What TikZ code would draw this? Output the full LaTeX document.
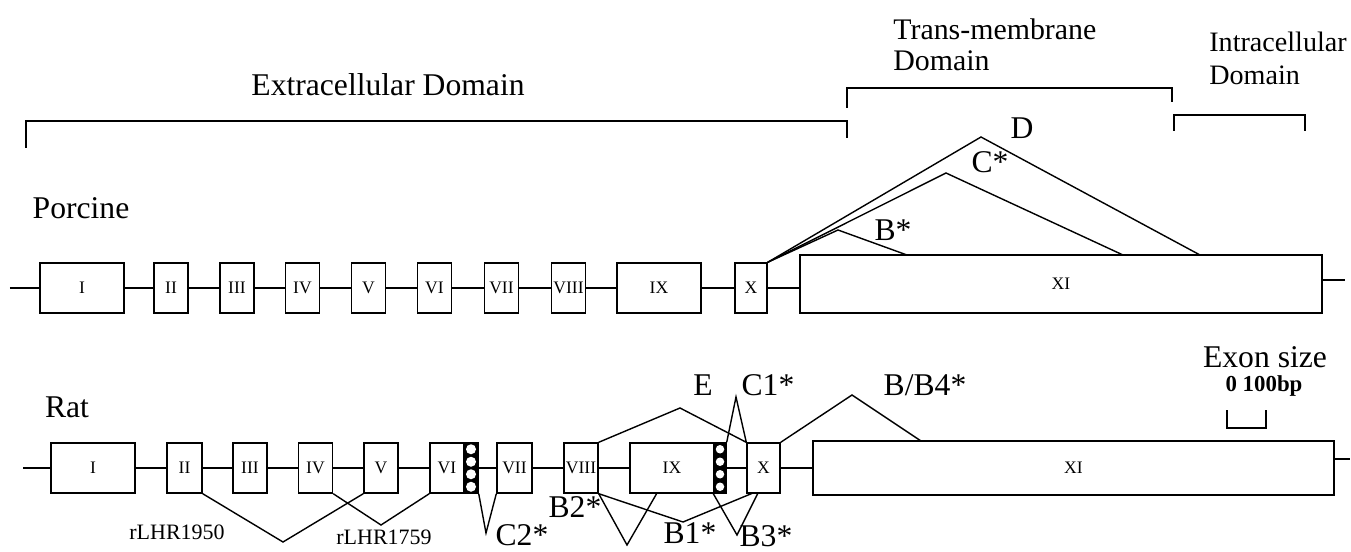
\documentclass[tikz,border=0pt]{standalone}
\usepackage{fontspec}
\setmainfont{Liberation Serif}

\begin{document}
\begin{tikzpicture}[x=1cm,y=1cm]
\tikzset{
  exon/.style={draw,rectangle,line width=0.8pt,minimum height=10mm,inner sep=0pt,font=\fontsize{10}{12}\selectfont},
  checker/.style={draw,rectangle,line width=0.8pt,minimum height=10mm,inner sep=0pt,fill=black},
  intron/.style={line width=0.8pt},
  splice/.style={line width=0.8pt},
  bracket/.style={line width=1.2pt},
  tag/.style={inner sep=0pt,font=\fontsize{18}{20}\selectfont},
  smalltag/.style={inner sep=0pt,font=\fontsize{12.5}{14}\selectfont}
}
\useasboundingbox (0,0) rectangle (27.02,11.02);
\node[tag] (t_extra) at (7.76,9.32) {Extracellular Domain};
\node[tag,align=left,anchor=west,font=\fontsize{17}{17.5}\selectfont] (t_trans) at (17.86,10.12) {Trans-membrane\\Domain};
\node[tag,align=left,anchor=west,font=\fontsize{16}{19}\selectfont] (t_intra) at (24.18,9.85) {Intracellular\\Domain};
\draw[bracket] (0.52,8.06) -- (0.52,8.60) -- (16.94,8.60) -- (16.94,8.26);
\draw[bracket] (16.94,8.86) -- (16.94,9.26) -- (23.44,9.26) -- (23.44,8.98);
\draw[bracket] (23.48,8.40) -- (23.48,8.72) -- (26.10,8.72) -- (26.10,8.40);
\node[tag] (t_porcine) at (1.62,6.86) {Porcine};
\coordinate (p_start) at (0.20,5.26);
\coordinate (p_tail) at (26.90,5.42);
\node[exon,minimum width=16.8mm] (p_I) at (1.64,5.26) {I};
\node[exon,minimum width=6.8mm] (p_II) at (3.42,5.26) {II};
\node[exon,minimum width=6.8mm] (p_III) at (4.74,5.26) {III};
\node[exon,minimum width=6.8mm] (p_IV) at (6.05,5.26) {IV};
\node[exon,minimum width=6.8mm] (p_V) at (7.37,5.26) {V};
\node[exon,minimum width=6.8mm] (p_VI) at (8.69,5.26) {VI};
\node[exon,minimum width=6.8mm] (p_VII) at (10.03,5.26) {VII};
\node[exon,minimum width=6.8mm] (p_VIII) at (11.37,5.26) {VIII};
\node[exon,minimum width=16.8mm] (p_IX) at (13.18,5.26) {IX};
\node[exon,minimum width=6.4mm] (p_X) at (15.02,5.26) {X};
\node[exon,minimum width=104.4mm,minimum height=11.6mm] (p_XI) at (21.22,5.34) {XI};
\draw[intron] (p_start) -- (p_I);
\draw[intron] (p_I) -- (p_II);
\draw[intron] (p_II) -- (p_III);
\draw[intron] (p_III) -- (p_IV);
\draw[intron] (p_IV) -- (p_V);
\draw[intron] (p_V) -- (p_VI);
\draw[intron] (p_VI) -- (p_VII);
\draw[intron] (p_VII) -- (p_VIII);
\draw[intron] (p_VIII) -- (p_IX);
\draw[intron] (p_IX) -- (p_X);
\draw[intron] (p_X.east) -- (p_X.east -| p_XI.west);
\draw[intron] (p_XI.east |- p_tail) -- (p_tail);
\coordinate (p_aD) at (19.62,8.28);
\coordinate (p_eD) at (24.00,5.92);
\coordinate (p_aC) at (18.92,7.56);
\coordinate (p_eC) at (22.46,5.92);
\coordinate (p_aB) at (16.76,6.42);
\coordinate (p_eB) at (18.14,5.92);
\draw[splice] (p_X.north east) -- (p_aD) -- (p_eD);
\draw[splice] (p_X.north east) -- (p_aC) -- (p_eC);
\draw[splice] (p_X.north east) -- (p_aB) -- (p_eB);
\node[tag] (t_D) at (20.44,8.46) {D};
\node[tag] (t_C) at (19.80,7.78) {C*};
\node[tag] (t_B) at (17.86,6.42) {B*};
\node[tag] (t_rat) at (1.34,2.88) {Rat};
\coordinate (r_start) at (0.46,1.66);
\coordinate (r_tail) at (27.00,1.84);
\node[exon,minimum width=16.8mm] (r_I) at (1.86,1.66) {I};
\node[exon,minimum width=7.0mm] (r_II) at (3.69,1.66) {II};
\node[exon,minimum width=6.8mm] (r_III) at (5.00,1.66) {III};
\node[exon,minimum width=6.8mm] (r_IV) at (6.31,1.66) {IV};
\node[exon,minimum width=6.8mm] (r_V) at (7.62,1.66) {V};
\node[exon,minimum width=6.8mm] (r_VI) at (8.94,1.66) {VI};
\node[checker,minimum width=2.8mm] (r_chkA) at (9.42,1.66) {};
\node[exon,minimum width=7.0mm] (r_VII) at (10.29,1.66) {VII};
\node[exon,minimum width=6.8mm] (r_VIII) at (11.62,1.66) {VIII};
\node[exon,minimum width=16.8mm] (r_IX) at (13.44,1.66) {IX};
\node[checker,minimum width=2.4mm] (r_chkB) at (14.40,1.66) {};
\node[exon,minimum width=6.6mm] (r_X) at (15.27,1.66) {X};
\node[exon,minimum width=104.2mm,minimum height=10.8mm] (r_XI) at (21.47,1.66) {XI};
\foreach \yy in {2.035,1.785,1.535,1.285}
  \fill[white] (9.42,\yy) circle (0.1);
\foreach \yy in {2.035,1.785,1.535,1.285}
  \fill[white] (14.40,\yy) circle (0.085);
\draw[intron] (r_start) -- (r_I);
\draw[intron] (r_I) -- (r_II);
\draw[intron] (r_II) -- (r_III);
\draw[intron] (r_III) -- (r_IV);
\draw[intron] (r_IV) -- (r_V);
\draw[intron] (r_V) -- (r_VI);
\draw[intron] (r_chkA) -- (r_VII);
\draw[intron] (r_VII) -- (r_VIII);
\draw[intron] (r_VIII) -- (r_IX);
\draw[intron] (r_chkB) -- (r_X);
\draw[intron] (r_X) -- (r_XI);
\draw[intron] (r_XI.east |- r_tail) -- (r_tail);
\coordinate (r_a1950) at (5.66,0.18);
\coordinate (r_a1759) at (7.62,0.52);
\coordinate (r_aC2) at (9.72,0.36);
\coordinate (r_aB2) at (12.54,0.12);
\coordinate (r_eB2) at (13.14,1.16);
\coordinate (r_aB1) at (13.66,0.58);
\coordinate (r_eB1) at (15.06,1.16);
\coordinate (r_aB3) at (14.74,0.32);
\coordinate (r_eB3) at (15.16,1.16);
\coordinate (r_aE) at (13.60,2.86);
\coordinate (r_aC1) at (14.72,3.08);
\coordinate (r_aB4) at (17.04,3.12);
\coordinate (r_eB4) at (18.42,2.20);
\draw[splice] (r_II.south east) -- (r_a1950) -- (r_V.south west);
\draw[splice] (r_IV.south east) -- (r_a1759) -- (r_VI.south west);
\draw[splice] (r_chkA.south east) -- (r_aC2) -- (r_VII.south west);
\draw[splice] (r_VIII.south east) -- (r_aB2) -- (r_eB2);
\draw[splice] (r_VIII.south east) -- (r_aB1) -- (r_eB1);
\draw[splice] (r_chkB.south west) -- (r_aB3) -- (r_eB3);
\draw[splice] (r_VIII.north east) -- (r_aE) -- (r_X.north west);
\draw[splice] (r_chkB.north east) -- (r_aC1) -- (r_X.north west);
\draw[splice] (r_X.north east) -- (r_aB4) -- (r_eB4);
\node[tag] (t_E) at (14.06,3.32) {E};
\node[tag] (t_C1) at (15.36,3.32) {C1*};
\node[tag] (t_B4) at (18.50,3.32) {B/B4*};
\node[tag] (t_C2) at (10.44,0.32) {C2*};
\node[tag] (t_B2) at (11.50,0.88) {B2*};
\node[tag] (t_B1) at (13.80,0.36) {B1*};
\node[tag] (t_B3) at (15.32,0.30) {B3*};
\node[smalltag] (t_1950) at (3.54,0.38) {rLHR1950};
\node[smalltag] (t_1759) at (7.68,0.28) {rLHR1759};
\node[tag] (t_exon) at (25.30,3.88) {Exon size};
\node[tag,font=\bfseries\fontsize{13}{15}\selectfont] (t_bp) at (25.28,3.30) {0 100bp};
\draw[bracket] (24.54,2.82) -- (24.54,2.46) -- (25.32,2.46) -- (25.32,2.82);
\end{tikzpicture}
\end{document}
